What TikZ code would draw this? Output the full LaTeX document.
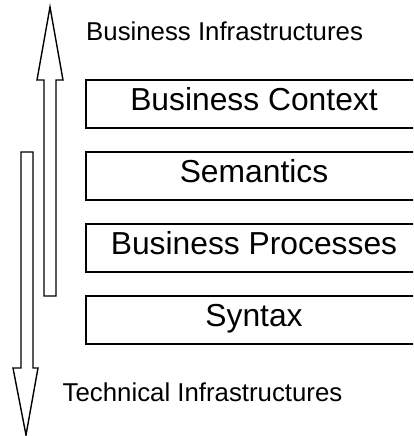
\documentclass[tikz,border=0pt]{standalone}
\usepackage{fontspec}
\setmainfont{Liberation Sans}
\tikzset{
  layer/.style={draw=black, line width=1.6pt, fill=white, inner sep=0pt,
    minimum width=336pt, minimum height=48pt, text height=24pt, text depth=12pt,
    font=\fontsize{31.8}{36}\selectfont},
  sidelabel/.style={anchor=base west, inner sep=0pt,
    font=\fontsize{25.8}{30}\selectfont},
  blockarrow/.style={draw=black, line width=1.4pt, fill=white, line join=miter}
}
\begin{document}
\begin{tikzpicture}[x=1pt,y=-1pt]
\useasboundingbox (0,0) rectangle (413,436);
\clip (0,0) rectangle (413,436);
% up arrow (business)
\draw[blockarrow] (50,7) -- (63,80) -- (56,80) -- (56,296) -- (44,296) -- (44,80) -- (37,80) -- cycle;
% down arrow (technical)
\draw[blockarrow] (21,152) -- (33,152) -- (33,368) -- (38,368) -- (26,435) -- (13,368) -- (21,368) -- cycle;
% layers
\node[layer] (ctx) at (254,104) {Business Context};
\node[layer] (sem) at (254,176) {Semantics};
\node[layer] (proc) at (254,248) {Business Processes};
\node[layer] (syn) at (254,320) {Syntax};
% labels
\node[sidelabel] (bi) at (86,41) {Business Infrastructures};
\node[sidelabel] (ti) at (62.5,401) {Technical Infrastructures};
\end{tikzpicture}
\end{document}
